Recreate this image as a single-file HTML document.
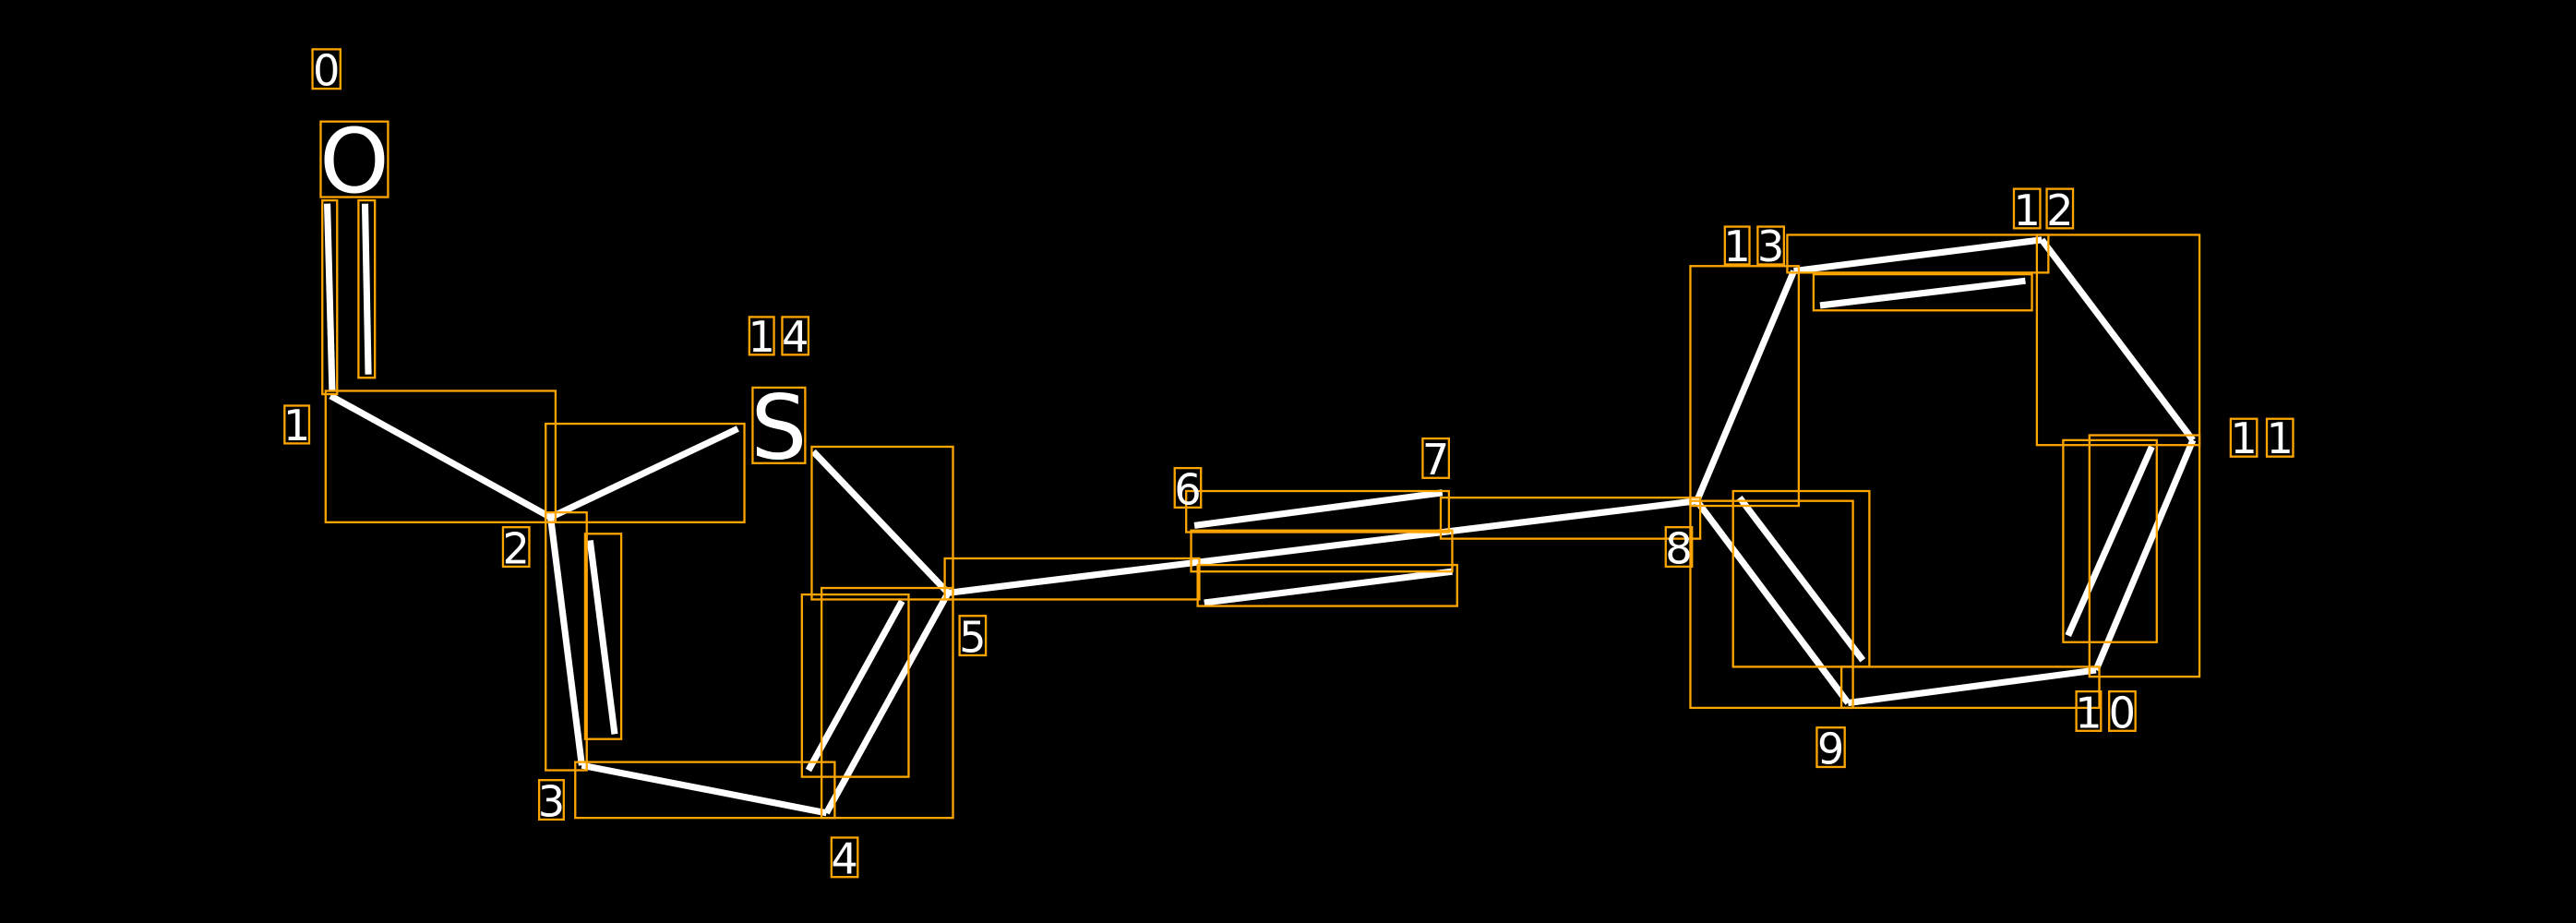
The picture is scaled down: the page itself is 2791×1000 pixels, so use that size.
<!DOCTYPE html>
<html><head><style>html,body{margin:0;padding:0;background:#000}svg{display:block}</style></head><body>
<svg width="2791" height="1000" viewBox="0 0 1568 562" xmlns="http://www.w3.org/2000/svg" font-family="'DejaVu Sans','Liberation Sans',sans-serif">
<rect width="1568" height="562" fill="#000"/>
<g stroke="#fff" stroke-width="4" stroke-linecap="butt" fill="none">
<line x1="199" y1="124" x2="202" y2="238"/>
<line x1="222" y1="124" x2="224" y2="228"/>
<line x1="201" y1="241" x2="335" y2="315"/>
<line x1="335" y1="315" x2="449" y2="261"/>
<line x1="335" y1="315" x2="354" y2="466"/>
<line x1="359" y1="329" x2="374" y2="447"/>
<line x1="354" y1="466" x2="503" y2="495"/>
<line x1="503" y1="495" x2="577" y2="361"/>
<line x1="492" y1="469" x2="549" y2="366"/>
<line x1="495" y1="275" x2="577" y2="361"/>
<line x1="577" y1="361" x2="1033" y2="305"/>
<line x1="727" y1="320" x2="878" y2="300"/>
<line x1="733" y1="367" x2="884" y2="348"/>
<line x1="1033" y1="305" x2="1092" y2="165"/>
<line x1="1092" y1="165" x2="1243" y2="146"/>
<line x1="1108" y1="186" x2="1233" y2="171"/>
<line x1="1243" y1="146" x2="1335" y2="268"/>
<line x1="1335" y1="268" x2="1276" y2="408"/>
<line x1="1310" y1="272" x2="1259" y2="387"/>
<line x1="1276" y1="408" x2="1125" y2="428"/>
<line x1="1125" y1="428" x2="1033" y2="305"/>
<line x1="1059" y1="303" x2="1134" y2="402"/>
</g>
<g stroke="#FFA500" stroke-width="1.3" fill="none">
<rect x="190" y="30" width="17" height="24"/>
<rect x="195" y="74" width="41" height="46"/>
<rect x="458" y="236" width="32" height="46"/>
<rect x="456" y="193" width="15" height="23"/><rect x="476" y="193" width="16" height="23"/>
<rect x="196" y="122" width="9" height="118"/>
<rect x="218" y="122" width="10" height="108"/>
<rect x="198" y="238" width="140" height="80"/>
<rect x="332" y="258" width="121" height="60"/>
<rect x="332" y="312" width="25" height="157"/>
<rect x="356" y="325" width="22" height="125"/>
<rect x="350" y="464" width="158" height="34"/>
<rect x="488" y="362" width="65" height="111"/>
<rect x="500" y="358" width="80" height="140"/>
<rect x="494" y="272" width="86" height="93"/>
<rect x="575" y="340" width="155" height="25"/>
<rect x="722" y="299" width="160" height="25"/>
<rect x="725" y="323" width="159" height="25"/>
<rect x="729" y="344" width="158" height="25"/>
<rect x="877" y="303" width="158" height="25"/>
<rect x="1029" y="162" width="66" height="146"/>
<rect x="1088" y="143" width="159" height="23"/>
<rect x="1104" y="167" width="133" height="22"/>
<rect x="1240" y="143" width="99" height="128"/>
<rect x="1272" y="265" width="67" height="147"/>
<rect x="1256" y="268" width="57" height="123"/>
<rect x="1121" y="406" width="157" height="25"/>
<rect x="1029" y="305" width="99" height="126"/>
<rect x="1055" y="299" width="83" height="107"/>
<rect x="173" y="247" width="15" height="23"/>
<rect x="306" y="321" width="16" height="24"/>
<rect x="328" y="475" width="15" height="24"/>
<rect x="506" y="510" width="16" height="24"/>
<rect x="584" y="375" width="16" height="24"/>
<rect x="715" y="285" width="16" height="24"/>
<rect x="866" y="267" width="16" height="24"/>
<rect x="1014" y="321" width="16" height="24"/>
<rect x="1106" y="443" width="17" height="24"/>
<rect x="1264" y="421" width="15" height="24"/><rect x="1284" y="421" width="16" height="24"/>
<rect x="1358" y="255" width="16" height="23"/><rect x="1380" y="255" width="16" height="23"/>
<rect x="1226" y="115" width="16" height="24"/><rect x="1246" y="115" width="16" height="24"/>
<rect x="1050" y="138" width="15" height="23"/><rect x="1070" y="138" width="16" height="23"/>
</g>
<g fill="#fff" font-size="26" text-anchor="middle">
<text x="198.5" y="52">0</text>
<text x="215.5" y="117" font-size="54">O</text>
<text x="474" y="279" font-size="54">S</text>
<text x="463.5" y="214">1</text><text x="484" y="214">4</text>
<text x="180.5" y="268">1</text>
<text x="314" y="343">2</text>
<text x="335.5" y="497">3</text>
<text x="514" y="532">4</text>
<text x="592" y="397">5</text>
<text x="723" y="307">6</text>
<text x="874" y="289">7</text>
<text x="1022" y="343">8</text>
<text x="1114.5" y="465">9</text>
<text x="1271.5" y="443">1</text><text x="1292" y="443">0</text>
<text x="1366" y="276">1</text><text x="1388" y="276">1</text>
<text x="1234" y="137">1</text><text x="1254" y="137">2</text>
<text x="1057.5" y="159">1</text><text x="1078" y="159">3</text>
</g>
</svg>
</body></html>
